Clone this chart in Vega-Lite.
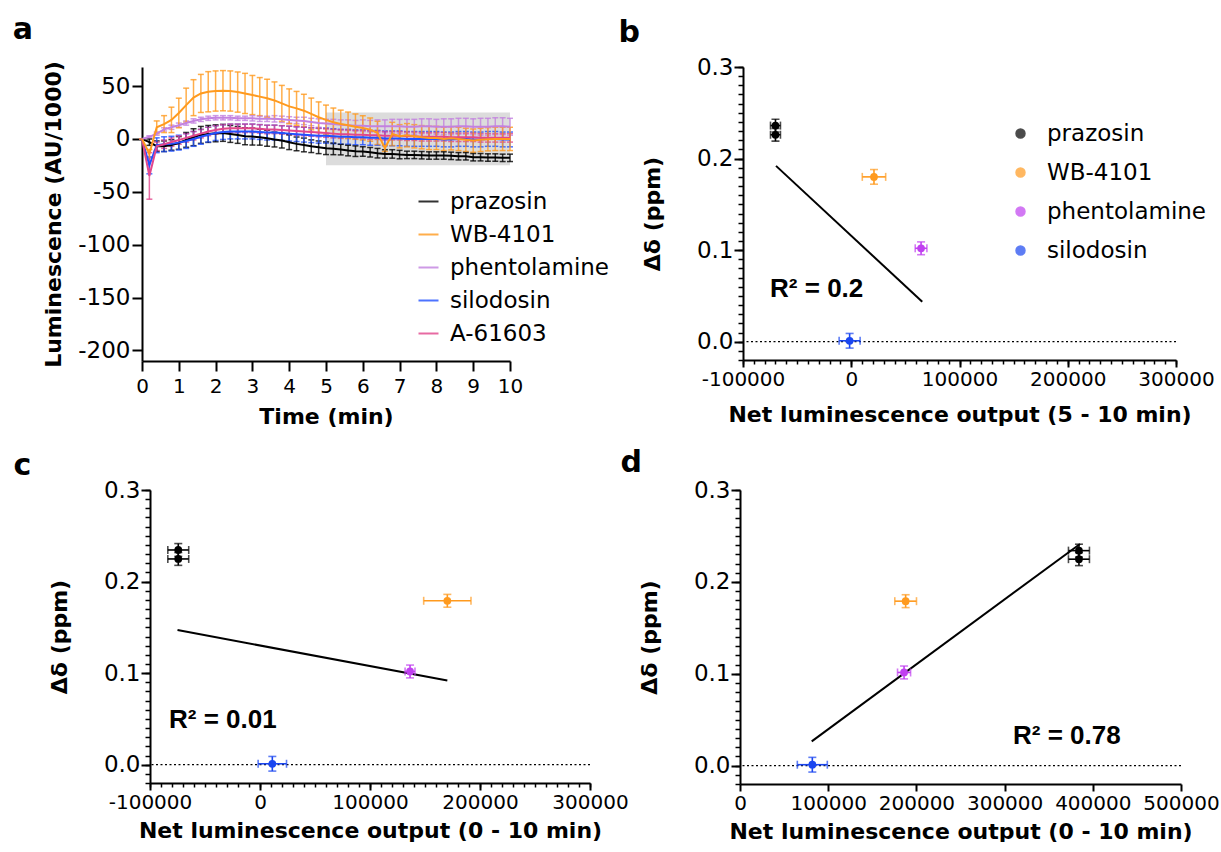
{
"$schema": "https://vega.github.io/schema/vega-lite/v6.json",
"background": "white",
"padding": {"left": 12, "top": 14, "right": 0, "bottom": 0},
"config": {
 "font": "DejaVu Sans",
 "view": {"stroke": null},
 "axis": {"grid": false, "domainColor": "black", "domainWidth": 2, "tickColor": "black", "tickWidth": 2, "labelColor": "black", "titleColor": "black", "labelFont": "DejaVu Sans", "titleFont": "DejaVu Sans", "labelFontSize": 20, "titleFontSize": 22, "titleFontWeight": "bold", "labelFlush": false, "labelOverlap": false},
 "title": {"font": "DejaVu Sans", "fontSize": 30, "fontWeight": "bold", "color": "black", "anchor": "start", "frame": "bounds"},
 "legend": {"labelFont": "DejaVu Sans", "labelColor": "black"}
},
"datasets": {
 "shade": [{"t1": 5, "t2": 10, "v1": -25, "v2": 25}],
 "ts": [
{"s":"prazosin","t":0,"m":0,"e":0},{"s":"prazosin","t":0.2,"m":-3.1,"e":3},{"s":"prazosin","t":0.4,"m":-6.9,"e":5},{"s":"prazosin","t":0.6,"m":-6.9,"e":5},{"s":"prazosin","t":0.8,"m":-5.7,"e":5},{"s":"prazosin","t":1,"m":-3.8,"e":6},{"s":"prazosin","t":1.2,"m":-0.9,"e":7},{"s":"prazosin","t":1.4,"m":1.6,"e":8},{"s":"prazosin","t":1.6,"m":3.8,"e":8},{"s":"prazosin","t":1.8,"m":4.7,"e":8},{"s":"prazosin","t":2,"m":5.3,"e":8},{"s":"prazosin","t":2.2,"m":5.7,"e":8},{"s":"prazosin","t":2.4,"m":4.7,"e":8},{"s":"prazosin","t":2.6,"m":3.8,"e":8},{"s":"prazosin","t":2.8,"m":2.5,"e":8},{"s":"prazosin","t":3,"m":2.2,"e":8},{"s":"prazosin","t":3.2,"m":1.6,"e":7.5},{"s":"prazosin","t":3.4,"m":0.6,"e":7.5},{"s":"prazosin","t":3.6,"m":-0.6,"e":7},{"s":"prazosin","t":3.8,"m":-1.6,"e":7},{"s":"prazosin","t":4,"m":-3.1,"e":7},{"s":"prazosin","t":4.2,"m":-4.7,"e":6.5},{"s":"prazosin","t":4.4,"m":-5.7,"e":6.5},{"s":"prazosin","t":4.6,"m":-6.9,"e":6},{"s":"prazosin","t":4.8,"m":-7.9,"e":6},{"s":"prazosin","t":5,"m":-8.8,"e":6},{"s":"prazosin","t":5.2,"m":-9.4,"e":5.5},{"s":"prazosin","t":5.4,"m":-10.1,"e":5},{"s":"prazosin","t":5.6,"m":-11,"e":5},{"s":"prazosin","t":5.8,"m":-11.6,"e":5},{"s":"prazosin","t":6,"m":-11.9,"e":4.5},{"s":"prazosin","t":6.2,"m":-12.6,"e":4.5},{"s":"prazosin","t":6.4,"m":-13.5,"e":4.5},{"s":"prazosin","t":6.6,"m":-14.2,"e":4},{"s":"prazosin","t":6.8,"m":-14.2,"e":4},{"s":"prazosin","t":7,"m":-14.8,"e":4},{"s":"prazosin","t":7.2,"m":-15.1,"e":3.5},{"s":"prazosin","t":7.4,"m":-15.1,"e":3.5},{"s":"prazosin","t":7.6,"m":-15.4,"e":3.5},{"s":"prazosin","t":7.8,"m":-15.7,"e":3.5},{"s":"prazosin","t":8,"m":-15.7,"e":3.5},{"s":"prazosin","t":8.2,"m":-15.7,"e":3.5},{"s":"prazosin","t":8.4,"m":-16,"e":3.5},{"s":"prazosin","t":8.6,"m":-16.4,"e":3.5},{"s":"prazosin","t":8.8,"m":-16.4,"e":3.5},{"s":"prazosin","t":9,"m":-17.3,"e":3.5},{"s":"prazosin","t":9.2,"m":-17.3,"e":3.5},{"s":"prazosin","t":9.4,"m":-17.6,"e":3.5},{"s":"prazosin","t":9.6,"m":-17.6,"e":3.5},{"s":"prazosin","t":9.8,"m":-17.9,"e":3.5},{"s":"prazosin","t":10,"m":-17.9,"e":3.5},
{"s":"phentolamine","t":0,"m":0,"e":0},{"s":"phentolamine","t":0.2,"m":2,"e":1},{"s":"phentolamine","t":0.4,"m":5,"e":1.5},{"s":"phentolamine","t":0.6,"m":9,"e":1.5},{"s":"phentolamine","t":0.8,"m":11,"e":2},{"s":"phentolamine","t":1,"m":13,"e":2},{"s":"phentolamine","t":1.2,"m":15,"e":2},{"s":"phentolamine","t":1.4,"m":17,"e":2},{"s":"phentolamine","t":1.6,"m":18.5,"e":2},{"s":"phentolamine","t":1.8,"m":19.5,"e":2},{"s":"phentolamine","t":2,"m":20,"e":2},{"s":"phentolamine","t":2.2,"m":20,"e":2},{"s":"phentolamine","t":2.4,"m":20,"e":2},{"s":"phentolamine","t":2.6,"m":19.5,"e":2},{"s":"phentolamine","t":2.8,"m":19.5,"e":2},{"s":"phentolamine","t":3,"m":19.5,"e":2.5},{"s":"phentolamine","t":3.2,"m":19,"e":2.5},{"s":"phentolamine","t":3.4,"m":19,"e":2.5},{"s":"phentolamine","t":3.6,"m":19,"e":3},{"s":"phentolamine","t":3.8,"m":18.5,"e":3},{"s":"phentolamine","t":4,"m":18,"e":3},{"s":"phentolamine","t":4.2,"m":17.5,"e":3},{"s":"phentolamine","t":4.4,"m":17,"e":3.5},{"s":"phentolamine","t":4.6,"m":16,"e":3.5},{"s":"phentolamine","t":4.8,"m":15,"e":4},{"s":"phentolamine","t":5,"m":14.5,"e":4},{"s":"phentolamine","t":5.2,"m":14,"e":4.5},{"s":"phentolamine","t":5.4,"m":13.5,"e":4.5},{"s":"phentolamine","t":5.6,"m":13,"e":5},{"s":"phentolamine","t":5.8,"m":12.5,"e":5},{"s":"phentolamine","t":6,"m":12.5,"e":5.5},{"s":"phentolamine","t":6.2,"m":12,"e":5.5},{"s":"phentolamine","t":6.4,"m":12,"e":6},{"s":"phentolamine","t":6.6,"m":12,"e":6},{"s":"phentolamine","t":6.8,"m":12,"e":6.5},{"s":"phentolamine","t":7,"m":12,"e":6.5},{"s":"phentolamine","t":7.2,"m":11.5,"e":7},{"s":"phentolamine","t":7.4,"m":11.5,"e":7},{"s":"phentolamine","t":7.6,"m":12,"e":7},{"s":"phentolamine","t":7.8,"m":12,"e":7},{"s":"phentolamine","t":8,"m":11.5,"e":7},{"s":"phentolamine","t":8.2,"m":11.5,"e":7.5},{"s":"phentolamine","t":8.4,"m":11.5,"e":7.5},{"s":"phentolamine","t":8.6,"m":12,"e":7.5},{"s":"phentolamine","t":8.8,"m":12,"e":7.5},{"s":"phentolamine","t":9,"m":11.5,"e":7.5},{"s":"phentolamine","t":9.2,"m":11.5,"e":8},{"s":"phentolamine","t":9.4,"m":11.5,"e":8},{"s":"phentolamine","t":9.6,"m":12,"e":8},{"s":"phentolamine","t":9.8,"m":12,"e":8},{"s":"phentolamine","t":10,"m":11.5,"e":8},
{"s":"silodosin","t":0,"m":0,"e":0},{"s":"silodosin","t":0.2,"m":-25,"e":8},{"s":"silodosin","t":0.4,"m":-6,"e":7},{"s":"silodosin","t":0.6,"m":-5,"e":7},{"s":"silodosin","t":0.8,"m":-4.5,"e":7},{"s":"silodosin","t":1,"m":-3.5,"e":7},{"s":"silodosin","t":1.2,"m":-2,"e":7},{"s":"silodosin","t":1.4,"m":0,"e":7},{"s":"silodosin","t":1.6,"m":2,"e":7},{"s":"silodosin","t":1.8,"m":4,"e":7},{"s":"silodosin","t":2,"m":5.5,"e":7},{"s":"silodosin","t":2.2,"m":6.5,"e":7},{"s":"silodosin","t":2.4,"m":7,"e":7},{"s":"silodosin","t":2.6,"m":7,"e":7},{"s":"silodosin","t":2.8,"m":7,"e":7},{"s":"silodosin","t":3,"m":7,"e":7},{"s":"silodosin","t":3.2,"m":6.5,"e":7},{"s":"silodosin","t":3.4,"m":6,"e":7},{"s":"silodosin","t":3.6,"m":6,"e":7},{"s":"silodosin","t":3.8,"m":5.5,"e":7},{"s":"silodosin","t":4,"m":5,"e":7},{"s":"silodosin","t":4.2,"m":4.5,"e":7},{"s":"silodosin","t":4.4,"m":4,"e":7},{"s":"silodosin","t":4.6,"m":3.5,"e":7},{"s":"silodosin","t":4.8,"m":3,"e":7},{"s":"silodosin","t":5,"m":3,"e":7},{"s":"silodosin","t":5.2,"m":2.5,"e":7},{"s":"silodosin","t":5.4,"m":2,"e":7},{"s":"silodosin","t":5.6,"m":2,"e":7},{"s":"silodosin","t":5.8,"m":1.5,"e":7},{"s":"silodosin","t":6,"m":1.5,"e":7},{"s":"silodosin","t":6.2,"m":1,"e":7},{"s":"silodosin","t":6.4,"m":1,"e":7},{"s":"silodosin","t":6.6,"m":0.5,"e":7},{"s":"silodosin","t":6.8,"m":0.5,"e":7},{"s":"silodosin","t":7,"m":0.5,"e":7},{"s":"silodosin","t":7.2,"m":0,"e":7},{"s":"silodosin","t":7.4,"m":0,"e":7},{"s":"silodosin","t":7.6,"m":0,"e":7},{"s":"silodosin","t":7.8,"m":0,"e":7},{"s":"silodosin","t":8,"m":0,"e":7},{"s":"silodosin","t":8.2,"m":-0.5,"e":7},{"s":"silodosin","t":8.4,"m":-0.5,"e":7},{"s":"silodosin","t":8.6,"m":0,"e":7},{"s":"silodosin","t":8.8,"m":0,"e":7},{"s":"silodosin","t":9,"m":-0.5,"e":7},{"s":"silodosin","t":9.2,"m":-0.5,"e":7},{"s":"silodosin","t":9.4,"m":0,"e":7},{"s":"silodosin","t":9.6,"m":0,"e":7},{"s":"silodosin","t":9.8,"m":-0.5,"e":7},{"s":"silodosin","t":10,"m":-0.5,"e":7},
{"s":"A-61603","t":0,"m":0,"e":0},{"s":"A-61603","t":0.2,"m":-35,"e":22},{"s":"A-61603","t":0.4,"m":-7,"e":4},{"s":"A-61603","t":0.6,"m":-5,"e":4},{"s":"A-61603","t":0.8,"m":-3,"e":4},{"s":"A-61603","t":1,"m":-1,"e":4},{"s":"A-61603","t":1.2,"m":1,"e":4},{"s":"A-61603","t":1.4,"m":3,"e":4},{"s":"A-61603","t":1.6,"m":5,"e":4},{"s":"A-61603","t":1.8,"m":7,"e":4},{"s":"A-61603","t":2,"m":8.5,"e":4},{"s":"A-61603","t":2.2,"m":9.5,"e":4},{"s":"A-61603","t":2.4,"m":10,"e":4},{"s":"A-61603","t":2.6,"m":10,"e":4},{"s":"A-61603","t":2.8,"m":10,"e":4},{"s":"A-61603","t":3,"m":10,"e":4},{"s":"A-61603","t":3.2,"m":9.5,"e":4},{"s":"A-61603","t":3.4,"m":9,"e":4},{"s":"A-61603","t":3.6,"m":9,"e":4},{"s":"A-61603","t":3.8,"m":8.5,"e":4},{"s":"A-61603","t":4,"m":8,"e":4},{"s":"A-61603","t":4.2,"m":7.5,"e":4},{"s":"A-61603","t":4.4,"m":7,"e":4},{"s":"A-61603","t":4.6,"m":6.5,"e":4},{"s":"A-61603","t":4.8,"m":6,"e":4},{"s":"A-61603","t":5,"m":5.5,"e":4},{"s":"A-61603","t":5.2,"m":5,"e":4},{"s":"A-61603","t":5.4,"m":4.5,"e":4},{"s":"A-61603","t":5.6,"m":4.5,"e":4},{"s":"A-61603","t":5.8,"m":4,"e":4},{"s":"A-61603","t":6,"m":4,"e":4},{"s":"A-61603","t":6.2,"m":3.5,"e":4},{"s":"A-61603","t":6.4,"m":3.5,"e":4},{"s":"A-61603","t":6.6,"m":3,"e":4},{"s":"A-61603","t":6.8,"m":3,"e":4},{"s":"A-61603","t":7,"m":3,"e":4},{"s":"A-61603","t":7.2,"m":2.5,"e":4},{"s":"A-61603","t":7.4,"m":2.5,"e":4},{"s":"A-61603","t":7.6,"m":2,"e":4},{"s":"A-61603","t":7.8,"m":2,"e":4},{"s":"A-61603","t":8,"m":2,"e":4},{"s":"A-61603","t":8.2,"m":2,"e":4},{"s":"A-61603","t":8.4,"m":1.5,"e":4},{"s":"A-61603","t":8.6,"m":1.5,"e":4},{"s":"A-61603","t":8.8,"m":1.5,"e":4},{"s":"A-61603","t":9,"m":1.5,"e":4},{"s":"A-61603","t":9.2,"m":1,"e":4},{"s":"A-61603","t":9.4,"m":1,"e":4},{"s":"A-61603","t":9.6,"m":1,"e":4},{"s":"A-61603","t":9.8,"m":1,"e":4},{"s":"A-61603","t":10,"m":1,"e":4},
{"s":"WB-4101","t":0,"m":0,"e":0},{"s":"WB-4101","t":0.2,"m":-14,"e":4},{"s":"WB-4101","t":0.4,"m":11,"e":6},{"s":"WB-4101","t":0.6,"m":14,"e":8},{"s":"WB-4101","t":0.8,"m":18,"e":12},{"s":"WB-4101","t":1,"m":24.5,"e":14},{"s":"WB-4101","t":1.2,"m":32,"e":16},{"s":"WB-4101","t":1.4,"m":39,"e":17},{"s":"WB-4101","t":1.6,"m":43,"e":18},{"s":"WB-4101","t":1.8,"m":44.6,"e":19},{"s":"WB-4101","t":2,"m":45.3,"e":19},{"s":"WB-4101","t":2.2,"m":45.6,"e":19},{"s":"WB-4101","t":2.4,"m":45.3,"e":19},{"s":"WB-4101","t":2.6,"m":44.3,"e":19},{"s":"WB-4101","t":2.8,"m":43,"e":19},{"s":"WB-4101","t":3,"m":41.5,"e":18.5},{"s":"WB-4101","t":3.2,"m":40,"e":18},{"s":"WB-4101","t":3.4,"m":38.4,"e":18},{"s":"WB-4101","t":3.6,"m":36.4,"e":17.5},{"s":"WB-4101","t":3.8,"m":33.6,"e":17},{"s":"WB-4101","t":4,"m":30.8,"e":16.5},{"s":"WB-4101","t":4.2,"m":28.9,"e":16},{"s":"WB-4101","t":4.4,"m":26.7,"e":15.5},{"s":"WB-4101","t":4.6,"m":23.6,"e":15},{"s":"WB-4101","t":4.8,"m":20.5,"e":14.5},{"s":"WB-4101","t":5,"m":18,"e":14},{"s":"WB-4101","t":5.2,"m":15.7,"e":13.5},{"s":"WB-4101","t":5.4,"m":14.2,"e":13},{"s":"WB-4101","t":5.6,"m":12.9,"e":12.5},{"s":"WB-4101","t":5.8,"m":11.6,"e":12},{"s":"WB-4101","t":6,"m":10.4,"e":11.5},{"s":"WB-4101","t":6.2,"m":8.8,"e":11},{"s":"WB-4101","t":6.4,"m":5.7,"e":11},{"s":"WB-4101","t":6.6,"m":-8.8,"e":3},{"s":"WB-4101","t":6.8,"m":4.7,"e":11},{"s":"WB-4101","t":7,"m":2.5,"e":11},{"s":"WB-4101","t":7.2,"m":3.5,"e":11},{"s":"WB-4101","t":7.4,"m":2.5,"e":11},{"s":"WB-4101","t":7.6,"m":1.6,"e":11},{"s":"WB-4101","t":7.8,"m":0.9,"e":11},{"s":"WB-4101","t":8,"m":0.9,"e":11},{"s":"WB-4101","t":8.2,"m":0,"e":11},{"s":"WB-4101","t":8.4,"m":0.6,"e":11},{"s":"WB-4101","t":8.6,"m":0,"e":11},{"s":"WB-4101","t":8.8,"m":-0.9,"e":11},{"s":"WB-4101","t":9,"m":-1.6,"e":11},{"s":"WB-4101","t":9.2,"m":-0.9,"e":11},{"s":"WB-4101","t":9.4,"m":-0.3,"e":11},{"s":"WB-4101","t":9.6,"m":0,"e":11},{"s":"WB-4101","t":9.8,"m":0,"e":11},{"s":"WB-4101","t":10,"m":0,"e":11}
 ],
 "bP": [
  {"s": "prazosin", "x": -70000, "y": 0.236, "ex": 4600, "ey": 0.007},
  {"s": "prazosin", "x": -70000, "y": 0.226, "ex": 4600, "ey": 0.007},
  {"s": "WB-4101", "x": 21000, "y": 0.18, "ex": 10800, "ey": 0.008},
  {"s": "phentolamine", "x": 64500, "y": 0.102, "ex": 5400, "ey": 0.007},
  {"s": "silodosin", "x": -1500, "y": 0.001, "ex": 9700, "ey": 0.008}
 ],
 "bR": [{"x": -69500, "y": 0.192, "x2": 65600, "y2": 0.0436}],
 "bT": [{"x": -75000, "y": 0.058, "label": "R² = 0.2"}],
 "cP": [
  {"s": "prazosin", "x": -74300, "y": 0.2345, "ex": 9500, "ey": 0.007},
  {"s": "prazosin", "x": -74300, "y": 0.2247, "ex": 9500, "ey": 0.007},
  {"s": "WB-4101", "x": 170300, "y": 0.179, "ex": 21500, "ey": 0.007},
  {"s": "phentolamine", "x": 136400, "y": 0.1018, "ex": 4500, "ey": 0.007},
  {"s": "silodosin", "x": 11200, "y": 0.001, "ex": 12900, "ey": 0.008}
 ],
 "cR": [{"x": -75000, "y": 0.147, "x2": 170300, "y2": 0.092}],
 "cT": [{"x": -82700, "y": 0.049, "label": "R² = 0.01"}],
 "dP": [
  {"s": "prazosin", "x": 384300, "y": 0.234, "ex": 11900, "ey": 0.007},
  {"s": "prazosin", "x": 384300, "y": 0.2247, "ex": 11900, "ey": 0.007},
  {"s": "WB-4101", "x": 187800, "y": 0.179, "ex": 12300, "ey": 0.007},
  {"s": "phentolamine", "x": 186000, "y": 0.1014, "ex": 7400, "ey": 0.007},
  {"s": "silodosin", "x": 82000, "y": 0.001, "ex": 17000, "ey": 0.008}
 ],
 "dR": [{"x": 81300, "y": 0.0264, "x2": 385500, "y2": 0.2413}],
 "dT": [{"x": 309500, "y": 0.032, "label": "R² = 0.78"}]
},
"resolve": {"scale": {"color": "independent"}, "legend": {"color": "independent"}},
"spacing": 21,
"vconcat": [
 {
  "hconcat": [
   {
    "width": 368, "height": 294,
    "title": {"text": "a", "dx": -30, "offset": 16},
    "resolve": {"axis": {"x": "independent", "y": "independent"}},
    "layer": [
     {"data": {"name": "shade"}, "mark": {"type": "rect", "color": "#dcdcdc"},
      "encoding": {
       "x": {"field": "t1", "type": "quantitative", "scale": {"domain": [0, 10], "nice": false, "zero": false},
             "axis": {"orient": "bottom", "title": "Time (min)", "values": [0,1,2,3,4,5,6,7,8,9,10], "format": "d", "tickSize": 10, "labelPadding": 5, "titlePadding": 10}},
       "x2": {"field": "t2"},
       "y": {"field": "v1", "type": "quantitative", "scale": {"domain": [-210, 68], "nice": false, "zero": false},
             "axis": {"orient": "left", "title": "Luminescence (AU/1000)", "values": [-200,-150,-100,-50,0,50], "format": "d", "labelExpr": "replace(datum.label, '−', '-')", "labelFontSize": 23, "tickSize": 10, "labelPadding": 2, "titlePadding": 12}},
       "y2": {"field": "v2"}
      }},
     {"data": {"name": "ts"}, "mark": {"type": "errorbar", "size": 6, "thickness": 1.5, "ticks": {"opacity": 0.8}, "rule": {"opacity": 0.8}},
      "encoding": {
       "x": {"field": "t", "type": "quantitative", "axis": null},
       "y": {"field": "m", "type": "quantitative", "axis": null},
       "yError": {"field": "e"},
       "color": {"field": "s", "type": "nominal", "scale": {"domain": ["prazosin","WB-4101","phentolamine","silodosin","A-61603"], "range": ["#000000","#FF9A1E","#C381E0","#2151FF","#E2468C"]},
                 "legend": {"title": null, "orient": "none", "legendX": 275, "legendY": 123, "symbolType": "stroke", "symbolSize": 400, "symbolStrokeWidth": 2, "labelFontSize": 23, "labelOffset": 10, "rowPadding": 9, "padding": 0}}
      }},
     {"data": {"name": "ts"}, "mark": {"type": "line", "strokeWidth": 2},
      "encoding": {
       "x": {"field": "t", "type": "quantitative", "axis": null},
       "y": {"field": "m", "type": "quantitative", "axis": null},
       "color": {"field": "s", "type": "nominal", "scale": {"domain": ["prazosin","WB-4101","phentolamine","silodosin","A-61603"], "range": ["#000000","#FF9A1E","#C381E0","#2151FF","#E2468C"]},
                 "legend": {"title": null, "orient": "none", "legendX": 275, "legendY": 123, "symbolType": "stroke", "symbolSize": 400, "symbolStrokeWidth": 2, "labelFontSize": 23, "labelOffset": 10, "rowPadding": 9, "padding": 0}}
      }}
    ]
   },
   {
    "width": 433, "height": 293,
    "title": {"text": "b", "dx": -23, "offset": 8},
    "resolve": {"axis": {"x": "independent", "y": "independent"}},
    "layer": [
     {"data": {"values": [{}]}, "mark": {"type": "rule", "strokeDash": [2, 2.5], "strokeWidth": 1.2, "color": "black"},
      "encoding": {"y": {"datum": 0, "type": "quantitative", "scale": {"domain": [-0.02, 0.3], "nice": false, "zero": false},
        "axis": {"orient": "left", "values": [-0.02,-0.01,0,0.01,0.02,0.03,0.04,0.05,0.06,0.07,0.08,0.09,0.1,0.11,0.12,0.13,0.14,0.15,0.16,0.17,0.18,0.19,0.2,0.21,0.22,0.23,0.24,0.25,0.26,0.27,0.28,0.29,0.3], "labels": false, "domain": false, "tickSize": 5, "tickWidth": 1.5, "title": null}}}},
     {"data": {"name": "bR"}, "mark": {"type": "rule", "strokeWidth": 2, "color": "black"},
      "encoding": {
       "x": {"field": "x", "type": "quantitative", "scale": {"domain": [-100000, 300000], "nice": false, "zero": false},
             "axis": {"orient": "bottom", "values": [-100000,-90000,-80000,-70000,-60000,-50000,-40000,-30000,-20000,-10000,0,10000,20000,30000,40000,50000,60000,70000,80000,90000,100000,110000,120000,130000,140000,150000,160000,170000,180000,190000,200000,210000,220000,230000,240000,250000,260000,270000,280000,290000,300000], "labels": false, "domain": false, "tickSize": 4, "tickWidth": 1.5, "title": null}},
       "y": {"field": "y", "type": "quantitative", "axis": null},
       "x2": {"field": "x2"}, "y2": {"field": "y2"}
      }},
     {"data": {"name": "bP"}, "mark": {"type": "errorbar", "ticks": true, "size": 8, "thickness": 1.6},
      "encoding": {
       "x": {"field": "x", "type": "quantitative", "axis": null},
       "xError": {"field": "ex"},
       "y": {"field": "y", "type": "quantitative", "axis": null},
       "color": {"field": "s", "type": "nominal", "scale": {"domain": ["prazosin","WB-4101","phentolamine","silodosin"], "range": ["#000000","#FF9A1E","#C040F0","#1A46F0"]}}
      }},
     {"data": {"name": "bP"}, "mark": {"type": "errorbar", "ticks": true, "size": 8, "thickness": 1.6},
      "encoding": {
       "y": {"field": "y", "type": "quantitative", "axis": null},
       "yError": {"field": "ey"},
       "x": {"field": "x", "type": "quantitative", "axis": null},
       "color": {"field": "s", "type": "nominal"}
      }},
     {"data": {"name": "bP"}, "mark": {"type": "point", "filled": true, "size": 60, "opacity": 1},
      "encoding": {
       "x": {"field": "x", "type": "quantitative", "axis": {"orient": "bottom", "values": [-100000,0,100000,200000,300000], "format": "d", "labelExpr": "replace(datum.label, '−', '-')", "tickSize": 7, "labelPadding": 2, "title": "Net luminescence output (5 - 10 min)", "titlePadding": 15}},
       "y": {"field": "y", "type": "quantitative", "axis": {"orient": "left", "values": [0,0.1,0.2,0.3], "format": ".1f", "labelFontSize": 23, "tickSize": 9, "labelPadding": 1, "title": "Δδ (ppm)", "titlePadding": 32}},
       "color": {"field": "s", "type": "nominal",
                 "legend": {"title": null, "orient": "none", "legendX": 266, "legendY": 55, "symbolType": "circle", "symbolSize": 80, "symbolOpacity": 1, "labelFontSize": 23, "labelOffset": 15, "rowPadding": 15, "padding": 0}}
      }},
     {"data": {"name": "bT"}, "mark": {"type": "text", "font": "Liberation Sans", "fontSize": 26, "fontWeight": "bold", "align": "left", "baseline": "middle", "color": "black"},
      "encoding": {"x": {"field": "x", "type": "quantitative", "axis": null}, "y": {"field": "y", "type": "quantitative", "axis": null}, "text": {"field": "label"}}}
    ]
   }
  ],
  "spacing": 8,
  "resolve": {"scale": {"color": "independent"}, "legend": {"color": "independent"}}
 },
 {
  "hconcat": [
   {
    "hconcat": [
     {"width": 8, "height": 293, "data": {"values": []}, "mark": "point"},
     {
      "width": 440, "height": 293,
      "title": {"text": "c", "dx": -35, "offset": -2},
      "resolve": {"axis": {"x": "independent", "y": "independent"}},
      "layer": [
       {"data": {"values": [{}]}, "mark": {"type": "rule", "strokeDash": [2, 2.5], "strokeWidth": 1.2, "color": "black"},
        "encoding": {"y": {"datum": 0, "type": "quantitative", "scale": {"domain": [-0.02, 0.3], "nice": false, "zero": false},
          "axis": {"orient": "left", "values": [-0.02,-0.01,0,0.01,0.02,0.03,0.04,0.05,0.06,0.07,0.08,0.09,0.1,0.11,0.12,0.13,0.14,0.15,0.16,0.17,0.18,0.19,0.2,0.21,0.22,0.23,0.24,0.25,0.26,0.27,0.28,0.29,0.3], "labels": false, "domain": false, "tickSize": 5, "tickWidth": 1.5, "title": null}}}},
       {"data": {"name": "cR"}, "mark": {"type": "rule", "strokeWidth": 2, "color": "black"},
        "encoding": {
         "x": {"field": "x", "type": "quantitative", "scale": {"domain": [-100000, 300000], "nice": false, "zero": false},
               "axis": {"orient": "bottom", "values": [-100000,-90000,-80000,-70000,-60000,-50000,-40000,-30000,-20000,-10000,0,10000,20000,30000,40000,50000,60000,70000,80000,90000,100000,110000,120000,130000,140000,150000,160000,170000,180000,190000,200000,210000,220000,230000,240000,250000,260000,270000,280000,290000,300000], "labels": false, "domain": false, "tickSize": 4, "tickWidth": 1.5, "title": null}},
         "y": {"field": "y", "type": "quantitative", "axis": null},
         "x2": {"field": "x2"}, "y2": {"field": "y2"}
        }},
       {"data": {"name": "cP"}, "mark": {"type": "errorbar", "ticks": true, "size": 8, "thickness": 1.6},
        "encoding": {
         "x": {"field": "x", "type": "quantitative", "axis": null},
         "xError": {"field": "ex"},
         "y": {"field": "y", "type": "quantitative", "axis": null},
         "color": {"field": "s", "type": "nominal", "scale": {"domain": ["prazosin","WB-4101","phentolamine","silodosin"], "range": ["#000000","#FF9A1E","#C040F0","#1A46F0"]}, "legend": null}
        }},
       {"data": {"name": "cP"}, "mark": {"type": "errorbar", "ticks": true, "size": 8, "thickness": 1.6},
        "encoding": {
         "y": {"field": "y", "type": "quantitative", "axis": null},
         "yError": {"field": "ey"},
         "x": {"field": "x", "type": "quantitative", "axis": null},
         "color": {"field": "s", "type": "nominal", "legend": null}
        }},
       {"data": {"name": "cP"}, "mark": {"type": "point", "filled": true, "size": 60, "opacity": 1},
        "encoding": {
         "x": {"field": "x", "type": "quantitative", "axis": {"orient": "bottom", "values": [-100000,0,100000,200000,300000], "format": "d", "labelExpr": "replace(datum.label, '−', '-')", "tickSize": 7, "labelPadding": 2, "title": "Net luminescence output (0 - 10 min)", "titlePadding": 8}},
         "y": {"field": "y", "type": "quantitative", "axis": {"orient": "left", "values": [0,0.1,0.2,0.3], "format": ".1f", "labelFontSize": 23, "tickSize": 9, "labelPadding": 1, "title": "Δδ (ppm)", "titlePadding": 32}},
         "color": {"field": "s", "type": "nominal", "legend": null}
        }},
       {"data": {"name": "cT"}, "mark": {"type": "text", "font": "Liberation Sans", "fontSize": 26, "fontWeight": "bold", "align": "left", "baseline": "middle", "color": "black"},
        "encoding": {"x": {"field": "x", "type": "quantitative", "axis": null}, "y": {"field": "y", "type": "quantitative", "axis": null}, "text": {"field": "label"}}}
      ]
     }
    ],
    "spacing": 0,
    "bounds": "flush",
    "resolve": {"scale": {"color": "independent"}, "legend": {"color": "independent"}}
   },
   {
    "width": 441, "height": 294,
    "title": {"text": "d", "dx": -18, "offset": 1},
    "resolve": {"axis": {"x": "independent", "y": "independent"}},
    "layer": [
     {"data": {"values": [{}]}, "mark": {"type": "rule", "strokeDash": [2, 2.5], "strokeWidth": 1.2, "color": "black"},
      "encoding": {"y": {"datum": 0, "type": "quantitative", "scale": {"domain": [-0.02, 0.3], "nice": false, "zero": false},
        "axis": {"orient": "left", "values": [-0.02,-0.01,0,0.01,0.02,0.03,0.04,0.05,0.06,0.07,0.08,0.09,0.1,0.11,0.12,0.13,0.14,0.15,0.16,0.17,0.18,0.19,0.2,0.21,0.22,0.23,0.24,0.25,0.26,0.27,0.28,0.29,0.3], "labels": false, "domain": false, "tickSize": 5, "tickWidth": 1.5, "title": null}}}},
     {"data": {"name": "dR"}, "mark": {"type": "rule", "strokeWidth": 2, "color": "black"},
      "encoding": {
       "x": {"field": "x", "type": "quantitative", "scale": {"domain": [0, 500000], "nice": false, "zero": false}, "axis": null},
       "y": {"field": "y", "type": "quantitative", "axis": null},
       "x2": {"field": "x2"}, "y2": {"field": "y2"}
      }},
     {"data": {"name": "dP"}, "mark": {"type": "errorbar", "ticks": true, "size": 8, "thickness": 1.6},
      "encoding": {
       "x": {"field": "x", "type": "quantitative", "axis": null},
       "xError": {"field": "ex"},
       "y": {"field": "y", "type": "quantitative", "axis": null},
       "color": {"field": "s", "type": "nominal", "scale": {"domain": ["prazosin","WB-4101","phentolamine","silodosin"], "range": ["#000000","#FF9A1E","#C040F0","#1A46F0"]}, "legend": null}
      }},
     {"data": {"name": "dP"}, "mark": {"type": "errorbar", "ticks": true, "size": 8, "thickness": 1.6},
      "encoding": {
       "y": {"field": "y", "type": "quantitative", "axis": null},
       "yError": {"field": "ey"},
       "x": {"field": "x", "type": "quantitative", "axis": null},
       "color": {"field": "s", "type": "nominal", "legend": null}
      }},
     {"data": {"name": "dP"}, "mark": {"type": "point", "filled": true, "size": 60, "opacity": 1},
      "encoding": {
       "x": {"field": "x", "type": "quantitative", "axis": {"orient": "bottom", "values": [0,100000,200000,300000,400000,500000], "format": "d", "tickSize": 7, "labelPadding": 2, "title": "Net luminescence output (0 - 10 min)", "titlePadding": 8}},
       "y": {"field": "y", "type": "quantitative", "axis": {"orient": "left", "values": [0,0.1,0.2,0.3], "format": ".1f", "labelFontSize": 23, "tickSize": 9, "labelPadding": 1, "title": "Δδ (ppm)", "titlePadding": 32}},
       "color": {"field": "s", "type": "nominal", "legend": null}
      }},
     {"data": {"name": "dT"}, "mark": {"type": "text", "font": "Liberation Sans", "fontSize": 26, "fontWeight": "bold", "align": "left", "baseline": "middle", "color": "black"},
      "encoding": {"x": {"field": "x", "type": "quantitative", "axis": null}, "y": {"field": "y", "type": "quantitative", "axis": null}, "text": {"field": "label"}}}
    ]
   }
  ],
  "spacing": -9,
  "resolve": {"scale": {"color": "independent"}, "legend": {"color": "independent"}}
 }
]
}
